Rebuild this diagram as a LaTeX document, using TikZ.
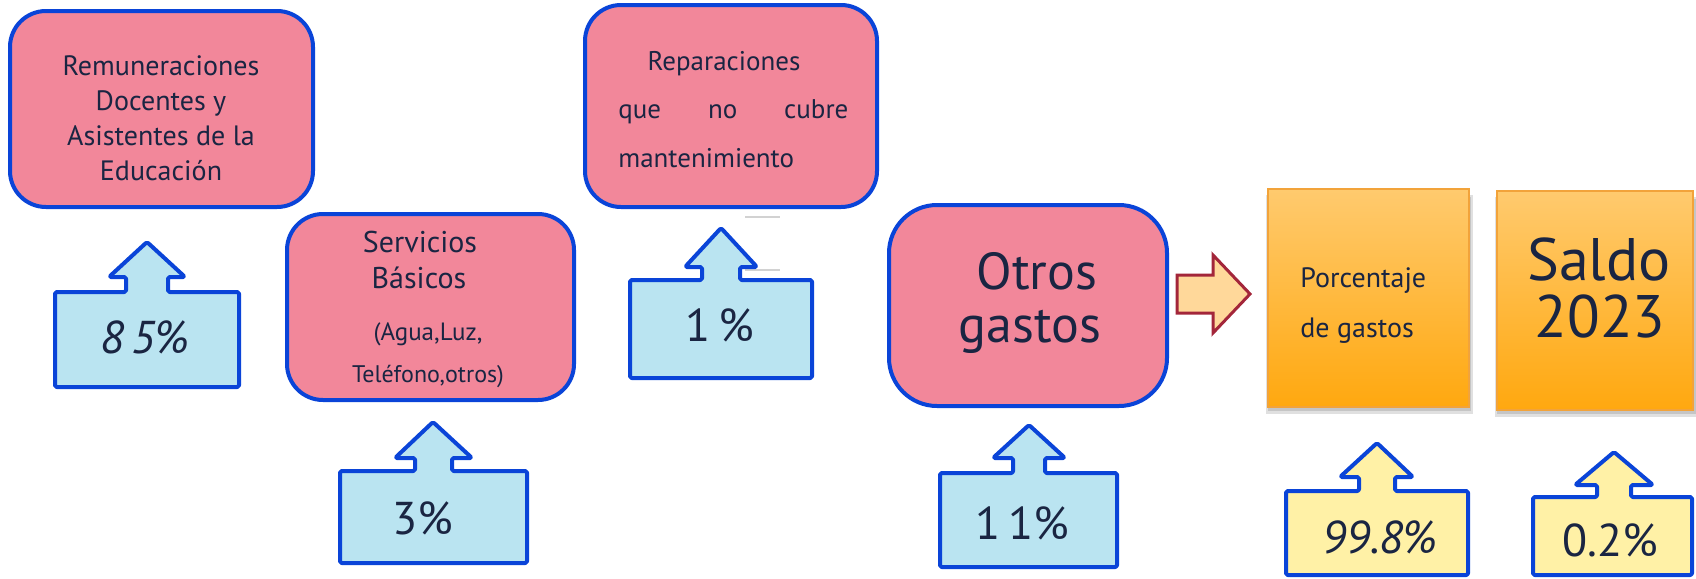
\documentclass[tikz,border=0pt]{standalone}
\usepackage{fontspec}
\setmainfont{PT Sans}
\newcommand{\myfs}[2]{\fontsize{#1}{#2}\selectfont}
\definecolor{pinkc}{HTML}{F2879A}
\definecolor{bblue}{HTML}{0A44D8}
\definecolor{lblue}{HTML}{BAE4F1}
\definecolor{ylw}{HTML}{FFF1A6}
\definecolor{textc}{HTML}{1A2542}
\definecolor{ortop}{HTML}{FFCA6E}
\definecolor{orbot}{HTML}{FFA80F}
\definecolor{orline}{HTML}{F2A33A}
\definecolor{redline}{HTML}{A3263A}
\definecolor{redfill}{HTML}{FFD89A}
\tikzset{
  pinkbox/.style={draw=bblue, fill=pinkc, line width=2pt, rounded corners=18pt},
  callshape/.style={draw=bblue, line width=2pt, line join=round, rounded corners=0.8pt},
  lbl/.style={text=textc, inner sep=0pt},
  pct/.style={lbl, font=\myfs{23}{27}},
  orbox/.style={draw=orline, top color=ortop, bottom color=orbot, line width=0.6pt},
  shad/.style={fill=black, opacity=0.12},
  gdash/.style={draw=gray!35, line width=1.3pt}
}
\begin{document}
\begin{tikzpicture}[x=0.5pt,y=-0.5pt]
\useasboundingbox (0,0) rectangle (1696,578);

% ---------- Remuneraciones ----------
\draw[pinkbox] (10,11) rectangle (313,207);
\node[lbl, anchor=base, font=\myfs{14}{17}] (rem1) at (161,75) {Remuneraciones};
\node[lbl, anchor=base, font=\myfs{14}{17}] (rem2) at (161,110) {Docentes y};
\node[lbl, anchor=base, font=\myfs{14}{17}] (rem3) at (161,145) {Asistentes de la};
\node[lbl, anchor=base, font=\myfs{14}{17}] (rem4) at (161,180) {Educación};

% 85% callout
\draw[callshape, fill=lblue] (147,242) -- (185,277) -- (168,277) -- (168,292) -- (239,292) -- (239,387) -- (55,387) -- (55,292) -- (126,292) -- (126,277) -- (109,277) -- cycle;
\node[pct, font=\myfs{23}{27}\itshape] (p85) at (145,337) {8\,5\%};

% ---------- Servicios Basicos ----------
\draw[pinkbox] (287,214) rectangle (574,400);
\node[lbl, anchor=base, font=\myfs{15}{18}] (serv1) at (420,252) {Servicios};
\node[lbl, anchor=base, font=\myfs{15}{18}] (serv2) at (419,288) {Básicos};
\node[lbl, anchor=base, font=\myfs{12.5}{15}] (serv3) at (428,340) {(Agua,Luz,};
\node[lbl, anchor=base, font=\myfs{12}{15}] (serv4) at (428,382) {Teléfono,otros)};

% 3% callout
\draw[callshape, fill=lblue] (433,422) -- (472,458) -- (452,458) -- (452,471) -- (527,471) -- (527,563) -- (340,563) -- (340,471) -- (415,471) -- (415,458) -- (395,458) -- cycle;
\node[pct] (p3) at (423,518) {3\%};

% ---------- Reparaciones ----------
\draw[pinkbox] (585,5) rectangle (877,207);
\node[lbl, anchor=base, font=\myfs{13.5}{16}] (rep1) at (724,70) {Reparaciones};
\node[lbl, anchor=base west, text width=115pt, font=\myfs{13.5}{16}] (rep2) at (618,118) {que\hfill no\hfill cubre};
\node[lbl, anchor=base west, font=\myfs{13.5}{16}] (rep3) at (618,167) {mantenimiento};
\draw[gdash] (745,217) -- (780,217);
\draw[gdash] (745,270) -- (780,270);

% 1% callout
\draw[callshape, fill=lblue] (721,228) -- (757,267) -- (740,267) -- (740,280) -- (812,280) -- (812,378) -- (630,378) -- (630,280) -- (702,280) -- (702,267) -- (685,267) -- cycle;
\node[pct] (p1) at (720,325) {1\,\%};

% ---------- Otros gastos ----------
\draw[pinkbox, rounded corners=24pt] (889,205) rectangle (1167,406);
\node[lbl, anchor=base, font=\myfs{26}{30}] (otr1) at (1037,289) {Otros};
\node[lbl, anchor=base, font=\myfs{26}{30}] (otr2) at (1030,342) {gastos};

% 11% callout
\draw[callshape, fill=lblue] (1029,425) -- (1065,458) -- (1045,458) -- (1045,473) -- (1117,473) -- (1117,567) -- (940,567) -- (940,473) -- (1013,473) -- (1013,458) -- (993,458) -- cycle;
\node[pct] (p11) at (1022,523) {1\,1\%};

% red arrow
\draw[draw=redline, fill=redfill, line width=1.5pt, line join=miter] (1177,275) -- (1213,275) -- (1213,255) -- (1250,294) -- (1213,333) -- (1213,313) -- (1177,313) -- cycle;

% ---------- Porcentaje de gastos ----------
\fill[shad] (1266,195) rectangle (1473,414);
\fill[shad] (1268,197) rectangle (1471,411);
\draw[orbox] (1268,189) rectangle (1469,407);
\node[lbl, anchor=base west, font=\myfs{14}{17}] (por1) at (1300,287) {Porcentaje};
\node[lbl, anchor=base west, font=\myfs{14}{17}] (por2) at (1300,337) {de gastos};

% ---------- Saldo 2023 ----------
\fill[shad] (1495,197) rectangle (1696,417);
\fill[shad] (1497,199) rectangle (1696,414);
\draw[orbox] (1497,191) rectangle (1693,410);
\node[lbl, anchor=base, font=\myfs{30}{34}] (sal1) at (1599,280) {Saldo};
\node[lbl, anchor=base, font=\myfs{30}{34}] (sal2) at (1600,337) {2023};

% 99.8% callout
\draw[callshape, fill=ylw] (1377,443) -- (1413,477) -- (1395,477) -- (1395,491) -- (1468,491) -- (1468,575) -- (1286,575) -- (1286,491) -- (1359,491) -- (1359,477) -- (1340,477) -- cycle;
\node[pct, font=\myfs{23}{27}\itshape] (p998) at (1380,537) {99.8\%};

% 0.2% callout
\draw[callshape, fill=ylw] (1614,452) -- (1653,485) -- (1631,485) -- (1631,497) -- (1692,497) -- (1692,575) -- (1533,575) -- (1533,497) -- (1597,497) -- (1597,485) -- (1575,485) -- cycle;
\node[pct] (p02) at (1610,540) {0.2\%};
\end{tikzpicture}
\end{document}
